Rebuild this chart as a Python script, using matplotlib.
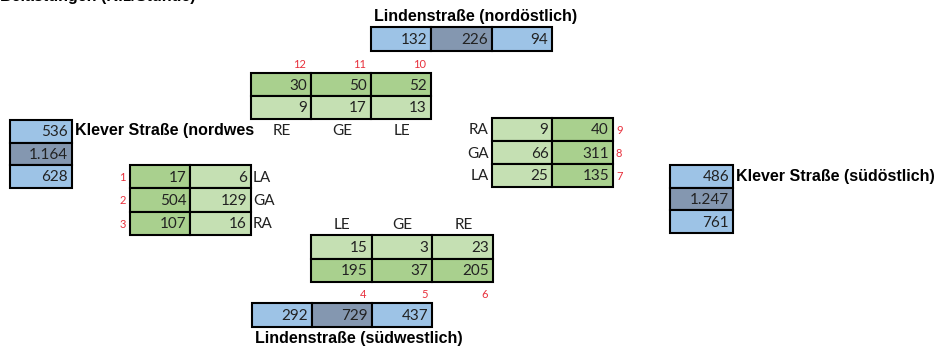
import matplotlib.pyplot as plt
from matplotlib.patches import Rectangle

# Cross-section totals (in, total, out) per approach
north_totals = [132, 226, 94]
west_totals = [536, 1164, 628]
east_totals = [486, 1247, 761]
south_totals = [292, 729, 437]

# Turning streams per approach (two rows / two columns)
north_flows = [[30, 50, 52], [9, 17, 13]]
north_ids = [12, 11, 10]
north_moves = ["RE", "GE", "LE"]

west_flows = [[17, 6], [504, 129], [107, 16]]
west_ids = [1, 2, 3]
west_moves = ["LA", "GA", "RA"]

east_flows = [[9, 40], [66, 311], [25, 135]]
east_ids = [9, 8, 7]
east_moves = ["RA", "GA", "LA"]

south_flows = [[15, 3, 23], [195, 37, 205]]
south_ids = [4, 5, 6]
south_moves = ["LE", "GE", "RE"]

street_names = ["Lindenstraße (nordöstlich)", "Klever Straße (nordwes",
                "Klever Straße (südöstlich)", "Lindenstraße (südwestlich)"]
title = "Belastungen (Kfz/Stunde)"

BLUE = "#9dc3e6"
BLUE_DARK = "#8497b0"
GREEN = "#c5e0b3"
GREEN_DARK = "#a9d08e"
RED = "#e8303c"
TXT = "#222222"
NUM_FONT = "Lato"
BOLD_FONT = "Liberation Sans"
NAME_SIZE = 11.5


def fmt(v):
    return f"{v:,}".replace(",", ".")


def draw_cells(ax, x0, y0, w, h, values, fills):
    for r, row in enumerate(values):
        for c, v in enumerate(row):
            x = x0 + c * w
            y = y0 + r * h
            ax.add_patch(Rectangle((x, y), w, h, facecolor=fills[r][c],
                                   edgecolor="black", linewidth=1.5))
            ax.text(x + w - 4, y + h / 2 + 1, fmt(v), ha="right", va="center",
                    fontsize=11, family=NUM_FONT, color=TXT)


fig = plt.figure(figsize=(9.48, 3.53), dpi=100)
ax = fig.add_axes([0, 0, 1, 1])
ax.set_xlim(0, 948)
ax.set_ylim(353, 0)
ax.axis("off")

# title sits mostly above the top edge, as in the cropped original
ax.text(0, 1, title, ha="left", va="baseline", fontsize=NAME_SIZE,
        weight="bold", family=BOLD_FONT, color="black", clip_on=False)

# north
draw_cells(ax, 371, 27, 60.5, 24, [north_totals], [[BLUE, BLUE_DARK, BLUE]])
ax.text(374, 16, street_names[0], ha="left", va="center", fontsize=NAME_SIZE,
        weight="bold", family=BOLD_FONT)
draw_cells(ax, 251, 73, 60, 23, north_flows,
           [[GREEN_DARK] * 3, [GREEN] * 3])
for i, (sid, mv) in enumerate(zip(north_ids, north_moves)):
    ax.text(251 + (i + 1) * 60 - 5, 64, str(sid), ha="right", va="center",
            fontsize=8, family=NUM_FONT, color=RED)
    ax.text(251 + i * 60 + 31, 131, mv, ha="center", va="center",
            fontsize=11, family=NUM_FONT, color=TXT)

# west
draw_cells(ax, 10, 120, 62, 22.5, [[v] for v in west_totals],
           [[BLUE], [BLUE_DARK], [BLUE]])
ax.text(75, 131, street_names[1], ha="left", va="center", fontsize=NAME_SIZE,
        weight="bold", family=BOLD_FONT)
draw_cells(ax, 130, 165, 60.5, 23.3, west_flows,
           [[GREEN_DARK, GREEN]] * 3)
for i, (sid, mv) in enumerate(zip(west_ids, west_moves)):
    yc = 165 + i * 23.3 + 12.5
    ax.text(126, yc, str(sid), ha="right", va="center",
            fontsize=8, family=NUM_FONT, color=RED)
    ax.text(253, yc, mv, ha="left", va="center",
            fontsize=11, family=NUM_FONT, color=TXT)

# east
draw_cells(ax, 492, 118, 60.5, 23, east_flows,
           [[GREEN, GREEN_DARK]] * 3)
for i, (sid, mv) in enumerate(zip(east_ids, east_moves)):
    yc = 118 + i * 23 + 12.5
    ax.text(616, yc, str(sid), ha="left", va="center",
            fontsize=8, family=NUM_FONT, color=RED)
    ax.text(489, yc, mv, ha="right", va="center",
            fontsize=11, family=NUM_FONT, color=TXT)
draw_cells(ax, 670, 165, 63, 22.7, [[v] for v in east_totals],
           [[BLUE], [BLUE_DARK], [BLUE]])
ax.text(736, 176, street_names[2], ha="left", va="center", fontsize=NAME_SIZE,
        weight="bold", family=BOLD_FONT)

# south
draw_cells(ax, 311, 235, 60.7, 23.5, south_flows,
           [[GREEN] * 3, [GREEN_DARK] * 3])
for i, (sid, mv) in enumerate(zip(south_ids, south_moves)):
    ax.text(311 + (i + 1) * 60.7 - 5, 294, str(sid), ha="right", va="center",
            fontsize=8, family=NUM_FONT, color=RED)
    ax.text(311 + i * 60.7 + 31, 225, mv, ha="center", va="center",
            fontsize=11, family=NUM_FONT, color=TXT)
draw_cells(ax, 252, 303, 60, 24, [south_totals], [[BLUE, BLUE_DARK, BLUE]])
ax.text(255, 338, street_names[3], ha="left", va="center", fontsize=NAME_SIZE,
        weight="bold", family=BOLD_FONT)

fig.savefig("out.png", dpi=100)
